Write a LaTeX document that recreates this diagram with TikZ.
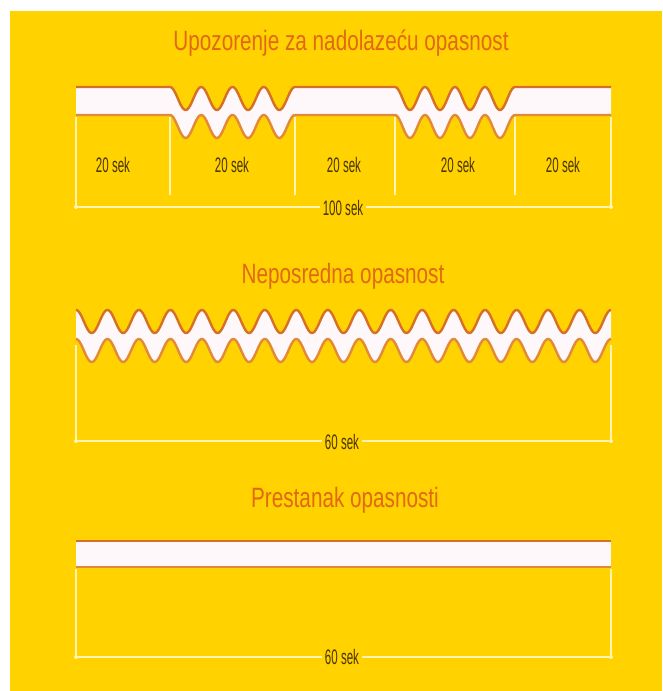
\documentclass[tikz,border=0pt]{standalone}
\usepackage{fontspec}
\newfontfamily\titlefont[FakeStretch=0.74]{Liberation Sans}
\newfontfamily\labelfont[FakeStretch=0.55]{Liberation Sans}
\definecolor{bgyellow}{RGB}{255,210,0}
\definecolor{titleorange}{RGB}{226,104,20}
\definecolor{labelbrown}{RGB}{72,52,4}
\definecolor{edgetop}{RGB}{214,112,40}
\definecolor{edgebot}{RGB}{226,138,58}
\definecolor{bandwhite}{RGB}{255,248,250}
\definecolor{dimline}{RGB}{255,244,180}
\tikzset{
  declare function={
    wone(\t)=((\t<170) || (\t>515) || ((\t>295) && (\t<395))) ? 87 :
      ((\t<=295) ? 98.5-11.5*cos((\t-170)*11.52) : 98.5-11.5*cos((\t-395)*12));
    wtwo(\t)=321.5-11.5*cos((\t-76)*11.4393);
  },
  titletext/.style={text=titleorange, font=\titlefont\fontsize{28}{30}\selectfont, inner sep=0pt},
  labeltext/.style={text=labelbrown, font=\labelfont\fontsize{21}{23}\selectfont, inner sep=0pt},
  dimlabel/.style={labeltext, fill=bgyellow, inner xsep=3pt, inner ysep=1pt},
  dimstyle/.style={draw=dimline, line width=1.6pt},
  divstyle/.style={draw=dimline, line width=1.4pt},
  topedge/.style={draw=edgetop, line width=2.4pt},
  botedge/.style={draw=edgebot, line width=2.4pt},
  enddot/.style={circle, fill=dimline, inner sep=0pt, minimum size=4pt},
}
\begin{document}
\begin{tikzpicture}[x=1pt, y=-1pt]
\useasboundingbox (0,0) rectangle (662,691);
\fill[white] (0,0) rectangle (662,691);
\fill[bgyellow] (10,11) rectangle (662,691);

% ---------- Section 1 ----------
\node[titletext] (t1) at (341,43) {Upozorenje za nadolazeću opasnost};
\fill[bandwhite] plot[domain=76:611, samples=536] (\x,{wone(\x)})
  -- plot[domain=611:76, samples=536] (\x,{wone(\x)+28}) -- cycle;
\draw[topedge] plot[domain=76:611, samples=536] (\x,{wone(\x)});
\draw[botedge] plot[domain=76:611, samples=536] (\x,{wone(\x)+28});

\coordinate (a1) at (76,117);
\coordinate (b1) at (611,117);
\coordinate (a1d) at (76,207);
\coordinate (b1d) at (611,207);
\foreach \xx/\nm in {170/d1, 295/d2, 395/d3, 515/d4}{
  \coordinate (\nm t) at (\xx,117);
  \coordinate (\nm b) at (\xx,195);
  \draw[divstyle] (\nm t) -- (\nm b);
}
\draw[dimstyle] (a1) -- (a1d) -- (b1d) -- (b1);
\node[enddot] (e1a) at (a1d) {};
\node[enddot] (e1b) at (b1d) {};
\node[dimlabel] (l1) at (343,208) {100 sek};
\node[labeltext] (s1) at (113,165) {20 sek};
\node[labeltext] (s2) at (232,165) {20 sek};
\node[labeltext] (s3) at (344,165) {20 sek};
\node[labeltext] (s4) at (458,165) {20 sek};
\node[labeltext] (s5) at (563,165) {20 sek};

% ---------- Section 2 ----------
\node[titletext] (t2) at (343,276) {Neposredna opasnost};
\fill[bandwhite] plot[domain=76:611, samples=536] (\x,{wtwo(\x)})
  -- plot[domain=611:76, samples=536] (\x,{wtwo(\x)+29}) -- cycle;
\draw[topedge] plot[domain=76:611, samples=536] (\x,{wtwo(\x)});
\draw[botedge] plot[domain=76:611, samples=536] (\x,{wtwo(\x)+29});
\coordinate (a2) at (76,345);
\coordinate (b2) at (611,345);
\coordinate (a2d) at (76,441);
\coordinate (b2d) at (611,441);
\draw[dimstyle] (a2) -- (a2d) -- (b2d) -- (b2);
\node[enddot] (e2a) at (a2d) {};
\node[enddot] (e2b) at (b2d) {};
\node[dimlabel] (l2) at (342,442) {60 sek};

% ---------- Section 3 ----------
\node[titletext] (t3) at (345,500) {Prestanak opasnosti};
\fill[bandwhite] (76,541) rectangle (611,567);
\draw[topedge] (76,541) -- (611,541);
\draw[botedge] (76,567) -- (611,567);
\coordinate (a3) at (76,569);
\coordinate (b3) at (611,569);
\coordinate (a3d) at (76,657);
\coordinate (b3d) at (611,657);
\draw[dimstyle] (a3) -- (a3d) -- (b3d) -- (b3);
\node[enddot] (e3a) at (a3d) {};
\node[enddot] (e3b) at (b3d) {};
\node[dimlabel] (l3) at (342,657) {60 sek};
\end{tikzpicture}
\end{document}
